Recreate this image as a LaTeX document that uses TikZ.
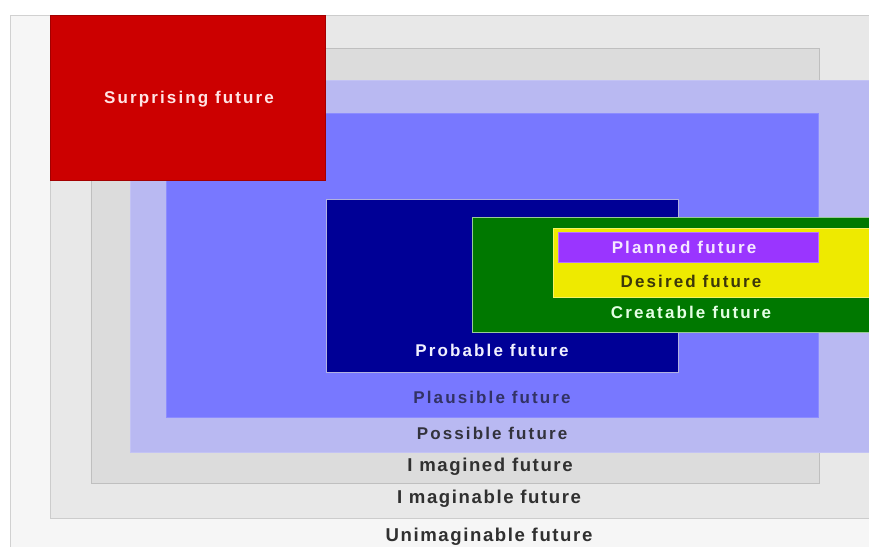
\documentclass[tikz,border=0pt]{standalone}
\usepackage{fontspec}
\setmainfont{Liberation Sans}
\newfontfamily\labA{Liberation Sans}[LetterSpace=12.5]
\newfontfamily\labB{Liberation Sans}[LetterSpace=8.5]
\definecolor{cUnim}{HTML}{F6F6F6}
\definecolor{cImab}{HTML}{E8E8E8}
\definecolor{cImag}{HTML}{DCDCDC}
\definecolor{cPoss}{HTML}{B9B9F2}
\definecolor{cPlau}{HTML}{7878FF}
\definecolor{cProb}{HTML}{000096}
\definecolor{cCrea}{HTML}{007800}
\definecolor{cDesi}{HTML}{EEEA00}
\definecolor{cPlan}{HTML}{9A35FF}
\definecolor{cSurp}{HTML}{CC0000}
\definecolor{tDark}{HTML}{303030}
\begin{document}
\begin{tikzpicture}[x=1pt,y=-1pt,
  boxline/.style={line width=0.8pt},
  upper/.style={font=\labA\bfseries\fontsize{17}{17}\selectfont, text height=12pt, text depth=0pt, inner sep=0pt, anchor=center},
  lower/.style={font=\labB\bfseries\fontsize{18.6}{18.6}\selectfont, text height=13.3pt, text depth=0pt, inner sep=0pt, anchor=center, text=tDark}]
\useasboundingbox (0,0) rectangle (869,546);
\fill[white] (0,0) rectangle (869,546);
% boxes
\filldraw[boxline, fill=cUnim, draw=black!18] (10,15) rectangle (880,560);
\filldraw[boxline, fill=cImab, draw=black!20] (50,15) rectangle (880,518);
\filldraw[boxline, fill=cImag, draw=black!25] (91,48) rectangle (819,483);
\filldraw[boxline, fill=cPoss, draw=cPoss!85!white] (130,80) rectangle (880,452);
\filldraw[boxline, fill=cPlau, draw=cPlau!85!white] (166,113) rectangle (818,417);
\filldraw[boxline, fill=cProb, draw=white!70!cProb] (326,199) rectangle (678,372);
\filldraw[boxline, fill=cCrea, draw=white!60!cCrea] (472,217) rectangle (880,332);
\filldraw[boxline, fill=cDesi, draw=white!40!cDesi] (553,228) rectangle (880,297);
\filldraw[boxline, fill=cPlan, draw=white!30!cPlan] (558,232) rectangle (818,262);
\filldraw[boxline, fill=cSurp, draw=cSurp!80!black] (50,15) rectangle (325,180);
% labels
\node[upper, text={rgb,255:red,255;green,228;blue,228}] (surp) at (189,97) {Surprising future};
\node[upper, text={rgb,255:red,245;green,232;blue,255}] (plan) at (684,247) {Planned future};
\node[upper, text={rgb,255:red,60;green,55;blue,10}] (desi) at (691,281) {Desired future};
\node[upper, text={rgb,255:red,228;green,255;blue,228}] (crea) at (691,312) {Creatable future};
\node[upper, text={rgb,255:red,240;green,240;blue,255}] (prob) at (492,350) {Probable future};
\node[upper, text={rgb,255:red,50;green,50;blue,100}] (plau) at (492,397) {Plausible future};
\node[upper, text={rgb,255:red,50;green,50;blue,60}] (poss) at (492,433) {Possible future};
\node[lower] (imag) at (490,465) {I magined future};
\node[lower] (imab) at (489,497) {I maginable future};
\node[lower] (unim) at (489,535) {Unimaginable future};
\end{tikzpicture}
\end{document}
